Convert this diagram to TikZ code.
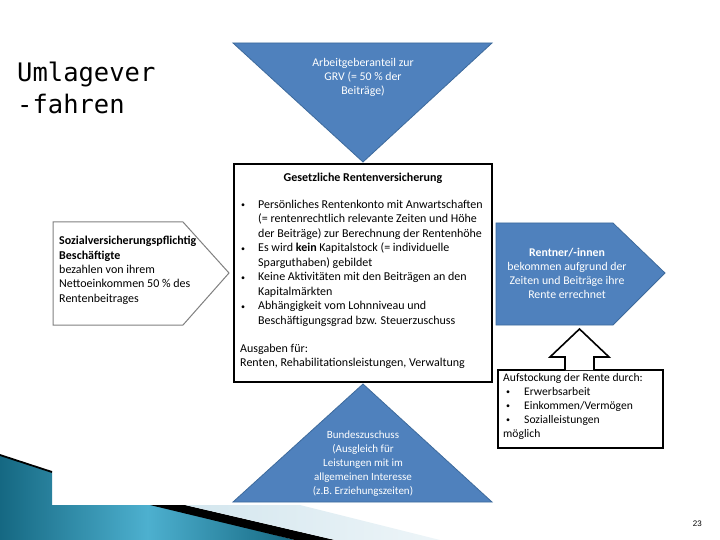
\documentclass[tikz,border=0pt]{standalone}
\usepackage{fontspec}
\setmainfont{Carlito}
\newfontfamily\titlefont{DejaVu Sans Mono}
\newfontfamily\numfont{Liberation Sans}
\definecolor{tblue}{HTML}{4F81BD}
\definecolor{tborder}{HTML}{3D6A9C}
\definecolor{tealdark}{HTML}{156882}
\definecolor{teallight}{HTML}{4DB0CF}
\definecolor{lblue}{HTML}{D3E6EE}
\tikzset{
  bluefill/.style={fill=tblue, draw=tborder, line width=0.8},
  wtext/.style={text=white, align=center, inner sep=0, font=\fontsize{11.8}{14}\selectfont},
  btext/.style={text=black, align=left, inner sep=0, font=\fontsize{12}{14.5}\selectfont},
  framebox/.style={draw=black, line width=1.6, fill=white},
}
\newcommand{\smallbul}{{\fontsize{8}{8}\selectfont\raisebox{0.5pt}{•}}}
\newcommand{\bul}{\makebox[17pt][l]{\smallbul}}
\newcommand{\ind}{\hspace*{17pt}}
\begin{document}
\begin{tikzpicture}[x=1pt,y=-1pt]
\useasboundingbox (0,0) rectangle (720,540);
\fill[white] (0,0) rectangle (720,540);

% title
\node[anchor=base west, inner sep=0, align=left, font=\titlefont\fontsize{25.5}{32}\selectfont] (title) at (17,114) {Umlagever\\-fahren};

% bottom-left decoration
\shade[left color=tealdark, right color=tealdark, middle color=teallight]
  (0,455) -- (52,472) -- (52,505) -- (157,505) -- (295,540) -- (0,540) -- cycle;
\draw[black, line width=1.8] (0,455) -- (52,472);
\fill[black] (150,505) -- (185,505) -- (335,540) -- (295,540) -- cycle;
\shade[left color=lblue, right color=lblue!40!white] (185,505) -- (300,505) -- (440,540) -- (335,540) -- cycle;

% top triangle
\path[bluefill] (233,43) -- (492,43) -- (363,162) -- cycle;
\node[wtext] (arb) at (363,77.5) {Arbeitgeberanteil zur\\GRV (= 50 \% der\\Beiträge)};

% bottom triangle
\path[bluefill] (363,384) -- (492,502) -- (233,502) -- cycle;
\node[wtext, font=\fontsize{11}{14}\selectfont] (bund) at (363,464) {Bundeszuschuss\\(Ausgleich für\\Leistungen mit im\\allgemeinen Interesse\\(z.B. Erziehungszeiten)};

% central box
\node[framebox, minimum width=258, minimum height=218, inner sep=0] (grv) at (363,273) {};
\node[font=\bfseries\fontsize{12}{14}\selectfont, inner sep=0] (grvtitle) at (363,178) {Gesetzliche Rentenversicherung};
\node[btext, anchor=north west] (grvlist) at (241,199.8) {%
\bul Persönliches Rentenkonto mit Anwartschaften\\
\ind (= rentenrechtlich relevante Zeiten und Höhe\\
\ind der Beiträge) zur Berechnung der Rentenhöhe\\
\bul Es wird \textbf{kein} Kapitalstock (= individuelle\\
\ind Sparguthaben) gebildet\\
\bul Keine Aktivitäten mit den Beiträgen an den\\
\ind Kapitalmärkten\\
\bul Abhängigkeit vom Lohnniveau und\\
\ind Beschäftigungsgrad bzw. Steuerzuschuss};
\node[btext, anchor=north west] (ausg) at (240,343.5) {Ausgaben für:\\Renten, Rehabilitationsleistungen, Verwaltung};

% left pentagon
\draw[draw=gray, line width=1, fill=white] (53,222) -- (183,222) -- (229,273) -- (183,325) -- (53,325) -- cycle;
\node[btext, anchor=north west, font=\fontsize{12}{14.3}\selectfont] (svp) at (59,236.3) {\textbf{Sozialversicherungspflichtig}\\\textbf{Beschäftigte}\\bezahlen von ihrem\\Nettoeinkommen 50 \% des\\Rentenbeitrages};

% right pentagon
\path[bluefill] (496,223) -- (613,223) -- (665,273) -- (613,325) -- (496,325) -- cycle;
\node[wtext] (rentner) at (567,273.5) {\textbf{Rentner/-innen}\\bekommen aufgrund der\\Zeiten und Beiträge ihre\\Rente errechnet};

% up arrow and box
\node[framebox, minimum width=165, minimum height=78, inner sep=0] (aufbox) at (580.5,409) {};
\draw[line width=1.6, fill=white] (565,370) -- (565,357) -- (550,357) -- (579.5,329) -- (609,357) -- (594,357) -- (594,370);
\node[btext, anchor=north west, font=\fontsize{11.6}{14}\selectfont] (auf) at (503,373) {%
Aufstockung der Rente durch:\\
\makebox[21pt][l]{\hspace*{3pt}\smallbul}Erwerbsarbeit\\
\makebox[21pt][l]{\hspace*{3pt}\smallbul}Einkommen/Vermögen\\
\makebox[21pt][l]{\hspace*{3pt}\smallbul}Sozialleistungen\\
möglich};

% page number
\node[anchor=base east, inner sep=0, font=\numfont\fontsize{8}{9}\selectfont] (pnum) at (702,526) {23};
\end{tikzpicture}
\end{document}
